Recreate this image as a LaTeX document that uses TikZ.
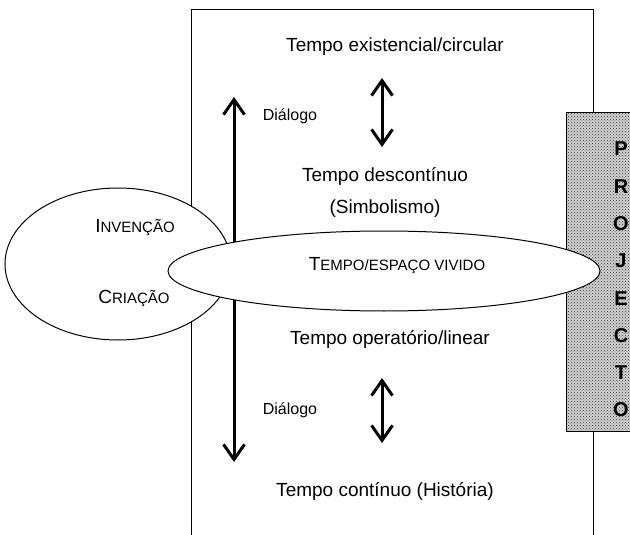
\documentclass[tikz,border=0pt]{standalone}
\usepackage{fontspec}
\setmainfont{Liberation Sans}
\usepackage{tikz}
\usetikzlibrary{arrows.meta,positioning,patterns}

\newcommand\capsc[2]{{\fontsize{19}{22}\selectfont #1}{\fontsize{15}{17}\selectfont #2}}

\begin{document}
\begin{tikzpicture}[
  x=1pt, y=-1pt,
  txt/.style={inner sep=0pt, font=\fontsize{19}{22}\selectfont},
  dialtxt/.style={inner sep=0pt, font=\fontsize{16}{19}\selectfont},
  letter/.style={inner sep=0pt, font=\fontsize{20}{22}\selectfont\bfseries},
  oval/.style={draw, line width=1pt, fill=white},
  dblarrow/.style={{Straight Barb[length=15pt,width=21pt]}-{Straight Barb[length=15pt,width=21pt]}, line width=3pt}
]
\useasboundingbox (0,0) rectangle (630,535);

% frame and projecto bar
\draw[line width=1pt] (191,535) -- (191,10) -- (593,10) -- (593,535);
\fill[gray!35] (566,113) rectangle (630,431);
\path[pattern=crosshatch dots, pattern color=black!80] (566,113) rectangle (630,431);
\draw[line width=1pt] (566,113) -- (566,431) -- (630,431);
\draw[line width=1pt] (566,113) -- (630,113);
\foreach \c [count=\i from 0] in {P,R,O,J,E,C,T,O}
  \node[letter] (proj\i) at (621,149+37.3*\i) {\c};

% invencao / criacao
\draw[oval] (118,264) ellipse [x radius=113, y radius=76];
\node[txt] (invencao) at (135,228) {\capsc{I}{NVENÇÃO}};
\node[txt] (criacao) at (134,298) {\capsc{C}{RIAÇÃO}};

% long dialogue arrow
\coordinate (dtop) at (234,97);
\coordinate (dbot) at (234,462);
\draw[dblarrow] (dtop) -- (dbot);

% vivido
\draw[oval] (384,271) ellipse [x radius=216, y radius=40];
\node[txt] (vivido) at (397,266) {\capsc{T}{EMPO/ESPAÇO VIVIDO}};

% times
\node[txt] (exist) at (395,47) {Tempo existencial/circular};
\node[txt] (descont) at (385,176) {Tempo descontínuo};
\node[txt] (simbol) at (385,209) {(Simbolismo)};
\node[txt] (operat) at (390,339) {Tempo operatório/linear};
\node[txt] (contin) at (385,491) {Tempo contínuo (História)};
\node[dialtxt] (dial1) at (290,116) {Diálogo};
\node[dialtxt] (dial2) at (290,410) {Diálogo};

\coordinate (a1) at (382,78);
\coordinate (b1) at (382,147);
\coordinate (a2) at (382,378);
\coordinate (b2) at (382,443);
\draw[dblarrow] (a1) -- (b1);
\draw[dblarrow] (a2) -- (b2);
\end{tikzpicture}
\end{document}
